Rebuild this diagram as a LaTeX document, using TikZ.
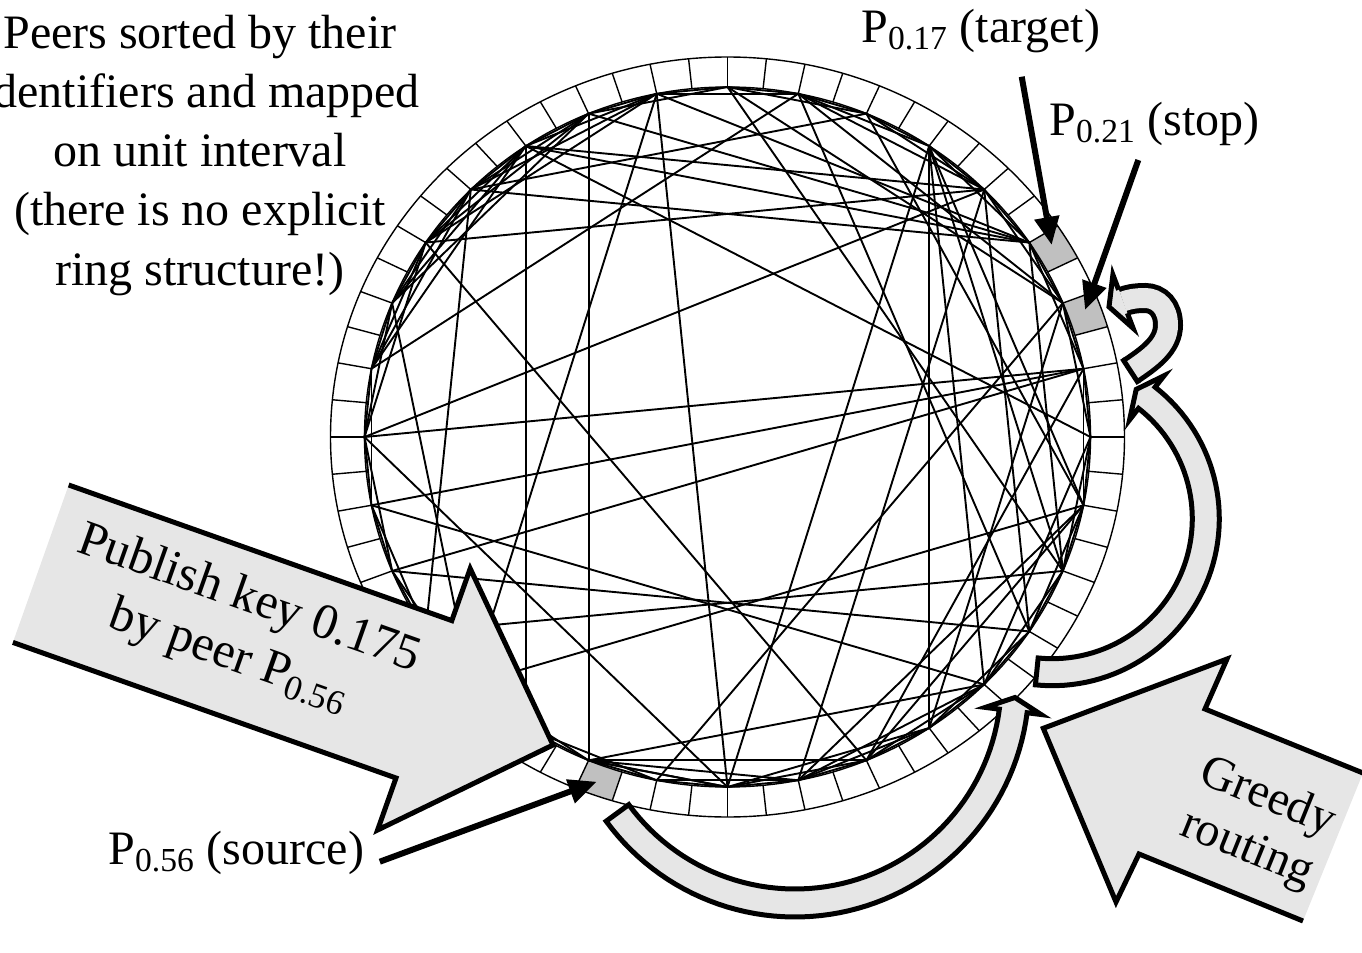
\documentclass[tikz,border=0pt]{standalone}
\usepackage{fontspec}
\setmainfont{Liberation Serif}
\usetikzlibrary{arrows.meta,calc}
\definecolor{arrowgray}{HTML}{E6E6E6}
\definecolor{cellgray}{HTML}{C0C0C0}
\begin{document}
\begin{tikzpicture}[x=0.5pt,y=-0.5pt,
  ringline/.style={line width=0.7pt},
  chord/.style={line width=0.95pt},
  outline/.style={line width=2.5pt, line join=miter},
  pointer/.style={line width=3pt, -{Triangle[length=14pt,width=12pt]}},
  lbl/.style={inner sep=0pt, font=\fontsize{24}{29.6}\selectfont}]
\useasboundingbox (0,0) rectangle (1362,953);
% gray cells
\foreach \a/\b in {16.875/22.5, 28.125/33.75, 247.5/253.125}{
  \fill[cellgray] plot[domain=\a:\b, samples=6] ({727.5+363*cos(\x)},{437-350*sin(\x)})
    -- plot[domain=\b:\a, samples=6] ({727.5+397*cos(\x)},{437-380*sin(\x)}) -- cycle;
}
% peer vertices
\foreach \i in {0,...,31}{
  \coordinate (v\i) at ({727.5+363*cos(\i*11.25)},{437-350*sin(\i*11.25)});
}
% short links
\foreach \i in {0,...,31}{
  \pgfmathtruncatemacro\j{mod(\i+1,32)}
  \pgfmathtruncatemacro\k{mod(\i+2,32)}
  \draw[chord] (v\i) -- (v\j);
  \draw[chord] (v\i) -- (v\k);
}
% long links
\foreach \a/\b in {10/22, 11/21, 11/4, 11/0, 11/3, 12/9, 12/6, 12/3, 13/9, 13/10, 13/26, 13/4,
  14/11, 14/20, 14/10, 15/11, 15/12, 15/7, 16/4, 16/13, 16/1, 16/24, 17/1, 17/28, 18/1, 18/29,
  19/30, 19/12, 20/31, 20/9, 22/28, 22/24, 22/25, 22/26, 23/2, 24/5, 24/27, 24/9,
  25/4, 25/28, 25/31, 26/31, 26/1, 27/5, 27/2, 28/5, 28/0, 29/4, 29/7, 30/5, 30/3, 30/8,
  31/5, 31/6, 3/9, 3/10, 7/4, 7/2, 8/2}{
  \draw[chord] (v\a) -- (v\b);
}
% ring
\draw[ringline] (727.5,437) ellipse [x radius=198.5pt, y radius=190pt];
\draw[ringline] (727.5,437) ellipse [x radius=181.5pt, y radius=175pt];
\foreach \k in {0,...,63}{
  \draw[ringline] ({727.5+363*cos(\k*5.625)},{437-350*sin(\k*5.625)})
    -- ({727.5+397*cos(\k*5.625)},{437-380*sin(\k*5.625)});
}
% curved routing arrows
\filldraw[outline, fill=arrowgray]
  plot[domain=143.8:7.3, samples=60] ({795+234*cos(\x)},{683+234*sin(\x)})
  -- (1041,714.5) -- (1014.9,697.5) -- (985.4,707.4)
  -- plot[domain=7.3:143.8, samples=60] ({795+206*cos(\x)},{683+206*sin(\x)}) -- cycle;
\filldraw[outline, fill=arrowgray]
  plot[domain=95.8:-52, samples=60] ({1052.3+167*cos(\x)},{518.7+167*sin(\x)})
  -- (1164.1,375.7) -- (1136.2,389.4) -- (1129.6,419.8)
  -- plot[domain=-52:95.8, samples=60] ({1052.3+140*cos(\x)},{518.7+140*sin(\x)}) -- cycle;
% loop arrow
\draw[line width=2.5pt, double=arrowgray, double distance=10pt]
  (1130.5,371) .. controls (1150,358) and (1168,345) .. (1168,325)
  .. controls (1168,308) and (1158,298) .. (1145,298)
  .. controls (1135,298) and (1128,299.5) .. (1123,301.5);
\draw[line width=2.5pt] (1122.3,358.4) -- (1138.7,383.6);
\fill[arrowgray] (1118.6,289.8) -- (1112.9,274.8) -- (1109,306.8) -- (1133.1,328.2) -- (1127.4,313.2) -- cycle;
\draw[outline] (1118.6,289.8) -- (1112.9,274.8) -- (1109,306.8) -- (1133.1,328.2) -- (1127.4,313.2);
% big block arrows
\fill[arrowgray] (68.7,485) -- (451.8,620.6) -- (470.2,568.6) -- (553,745) -- (377.6,830) -- (396,778) -- (12.9,642.4) -- cycle;
\draw[outline] (68.7,485) -- (451.8,620.6) -- (470.2,568.6) -- (553,745) -- (377.6,830) -- (396,778) -- (12.9,642.4);
\fill[arrowgray] (1363,773) -- (1205,709) -- (1227,659) -- (1043.3,728.3) -- (1116,902) -- (1139,854) -- (1303,921) -- cycle;
\draw[outline] (1363,773) -- (1205,709) -- (1227,659) -- (1043.3,728.3) -- (1116,902) -- (1139,854) -- (1303,921);
% labels
\node[lbl, align=center] (desc) at (200,155.3) {Peers sorted by their\\identifiers and mapped\\on unit interval\\(there is no explicit\\ring structure!)};
\node[lbl, anchor=base west] (tgtlbl) at (861,42) {P\textsubscript{0.17} (target)};
\node[lbl, anchor=base west] (stoplbl) at (1049,135) {P\textsubscript{0.21} (stop)};
\node[lbl, anchor=base west] (srclbl) at (108,864) {P\textsubscript{0.56} (source)};
\node[inner sep=0pt, align=center, font=\fontsize{25}{30}\selectfont, rotate=-19.5] (pub) at (238.8,628.4)
  {Publish key 0.175\\by peer P\textsubscript{0.56}};
\node[inner sep=0pt, align=center, font=\fontsize{24}{27.45}\selectfont, rotate=-22] (greedy) at (1257,824)
  {Greedy\\routing};
% pointers
\coordinate (tgtA) at (1021.7,76.7); \coordinate (tgtB) at (1051.7,245);
\coordinate (stopA) at (1138.3,160); \coordinate (stopB) at (1085,310);
\coordinate (srcA) at (379.8,861.7); \coordinate (srcB) at (596.7,781.7);
\draw[pointer] (tgtA) -- (tgtB);
\draw[pointer] (stopA) -- (stopB);
\draw[pointer] (srcA) -- (srcB);
\end{tikzpicture}
\end{document}
